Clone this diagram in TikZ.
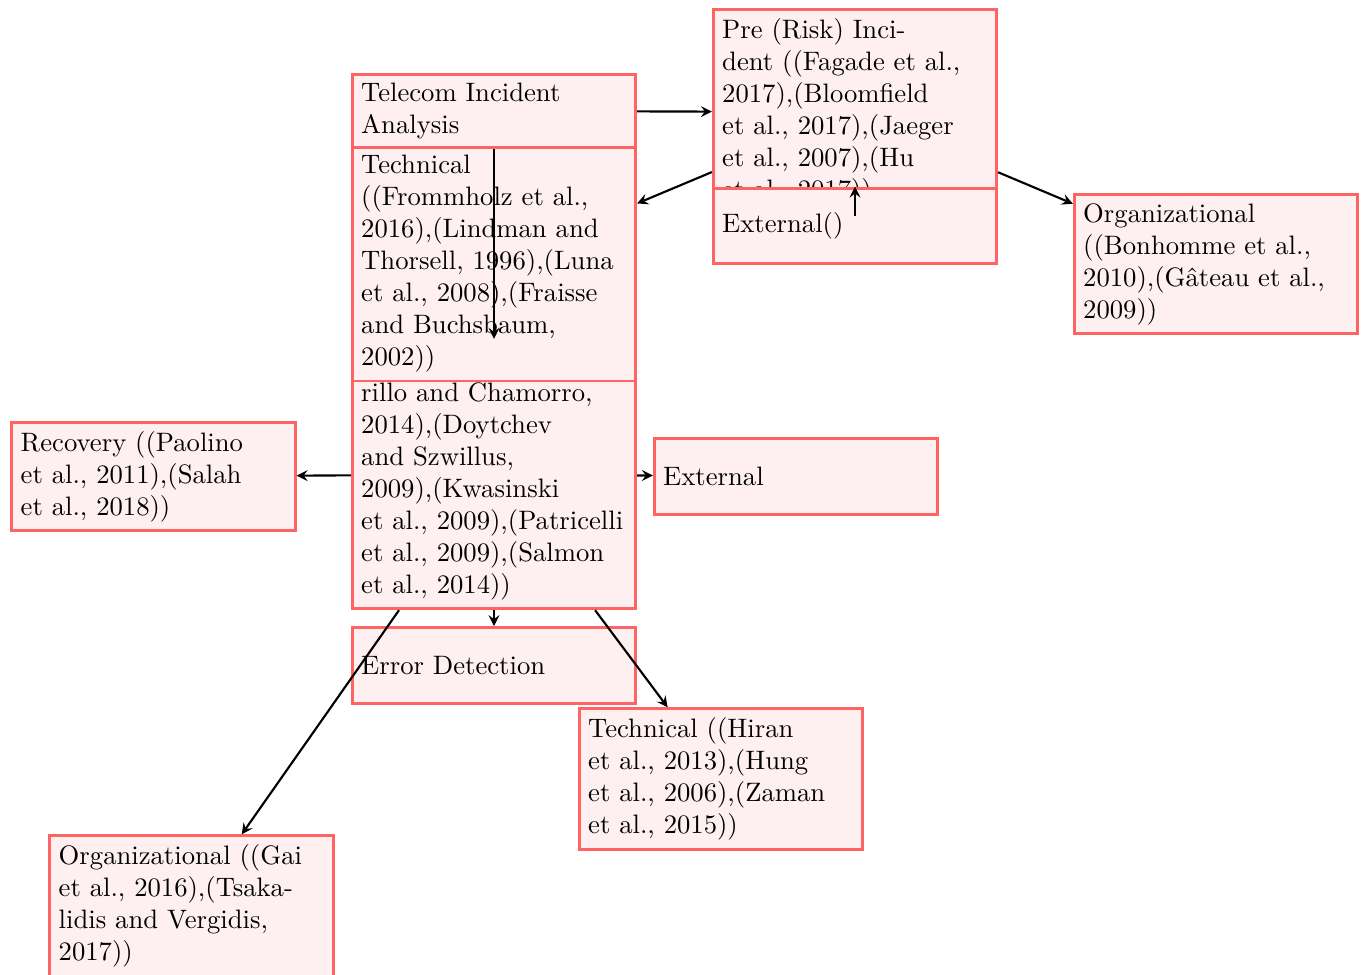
\documentclass[tikz,border=0pt]{standalone}
\usetikzlibrary{arrows}
\definecolor{boxline}{RGB}{255,100,100}
\definecolor{boxfill}{RGB}{254,240,240}
\begin{document}
\begin{tikzpicture}[x=0.375pt,y=-0.375pt,
  box/.style={draw=boxline,fill=boxfill,line width=1.1pt,text width=3.5cm,
    align=left,inner sep=0.3333em},
  single/.style={box,minimum height=1cm},
  link/.style={-stealth,thick}]
\useasboundingbox (0,0) rectangle (1363,975);

% central column
\node[box] (human) at (494,474.5) {\vphantom{(}\\ rillo and Chamorro,\\ 2014),(Doytchev\\ and Szwillus,\\ 2009),(Kwasinski\\ et al., 2009),(Patricelli\\ et al., 2009),(Salmon\\ et al., 2014))};
\node[box] (tech) at (494,263.5) {Technical\\ ((Frommholz et al.,\\ 2016),(Lindman and\\ Thorsell, 1996),(Luna\\ et al., 2008),(Fraisse\\ and Buchsbaum,\\ 2002))};
\node[box] (tele) at (494,111) {Telecom Incident\\ Analysis};
\node[single] (err) at (494,665.5) {Error Detection};

% upper right
\node[box] (pre) at (855,112) {Pre (Risk) Inci-\\ dent ((Fagade et al.,\\ 2017),(Bloomfield\\ et al., 2017),(Jaeger\\ et al., 2007),(Hu\\ et al., 2017))};
\node[single] (ext1) at (855,226) {External()};
\node[box] (org1) at (1216,264) {Organizational\\ ((Bonhomme et al.,\\ 2010),(G\^{a}teau et al.,\\ 2009))};

% lower part
\node[box] (rec) at (153.5,476.5) {Recovery ((Paolino\\ et al., 2011),(Salah\\ et al., 2018))};
\node[single] (ext2) at (796,476.5) {External};
\node[box] (tech2) at (721,779) {Technical ((Hiran\\ et al., 2013),(Hung\\ et al., 2006),(Zaman\\ et al., 2015))};
\node[box] (org2) at (191.5,906) {Organizational ((Gai\\ et al., 2016),(Tsaka-\\ lidis and Vergidis,\\ 2017))};

% connectors
\draw[link] (tele) -- (pre);
\draw[link] (tele) -- (human);
\draw[link] (pre) -- (tech);
\draw[link] (pre) -- (org1);
\draw[link] (pre) -- (ext1);
\draw[link] (human) -- (rec);
\draw[link] (human) -- (ext2);
\draw[link] (human) -- (err);
\draw[link] (human) -- (tech2);
\draw[link] (human) -- (org2);
\end{tikzpicture}
\end{document}
